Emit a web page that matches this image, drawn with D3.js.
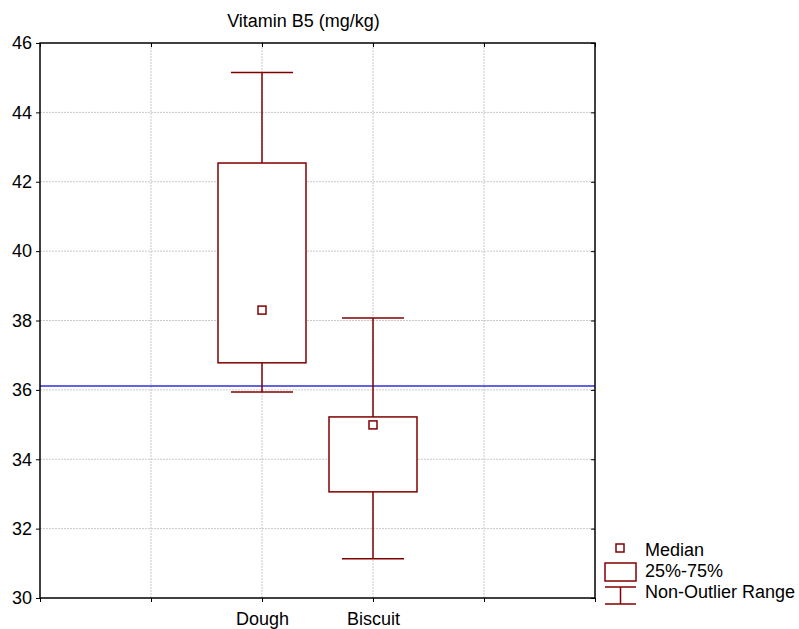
<!DOCTYPE html>
<html>
<head>
<meta charset="utf-8">
<script src="https://cdn.jsdelivr.net/npm/d3@7"></script>
<style>
  body { margin: 0; background: #fff; }
  text { font-family: "Liberation Sans", Arial, sans-serif; }
</style>
</head>
<body>
<div id="chart"></div>
<script>
// data
const categories = ['Dough', 'Biscuit'];
const whiskerLow = [35.94, 31.13];
const q1 = [36.78, 33.06];
const medians = [38.30, 34.99];
const q3 = [42.54, 35.22];
const whiskerHigh = [45.15, 38.07];
const refLine = 36.11;
const yTicks = [30, 32, 34, 36, 38, 40, 42, 44, 46];
const xSlots = [0, 1, 2, 3, 4, 5];   // categories sit on slots 2 and 3
const legendItems = ['Median', '25%-75%', 'Non-Outlier Range'];

const W = 799, H = 629;
const m = { left: 40, right: 204, top: 43, bottom: 31 };
const color = '#800000';
const fs = '18px';

const svg = d3.select('#chart').append('svg').attr('width', W).attr('height', H);

const x = d3.scaleLinear().domain([0, 5]).range([m.left, W - m.right]);
const y = d3.scaleLinear().domain([30, 46]).range([H - m.bottom, m.top]);
const catX = (i) => x(i + 2);

// grid
const grid = svg.append('g').attr('stroke', '#c8c8c8').attr('stroke-dasharray', '2,1').attr('stroke-width', 1);
yTicks.slice(1, -1).forEach((t) => {
  grid.append('line').attr('x1', x(0)).attr('x2', x(5)).attr('y1', y(t)).attr('y2', y(t));
});
xSlots.slice(1, -1).forEach((s) => {
  grid.append('line').attr('x1', x(s)).attr('x2', x(s)).attr('y1', y(30)).attr('y2', y(46));
});

// reference line
svg.append('line')
  .attr('x1', x(0)).attr('x2', x(5))
  .attr('y1', y(refLine)).attr('y2', y(refLine))
  .attr('stroke', '#2f2fe0').attr('stroke-width', 1.5);

// axes
const yAxis = svg.append('g').attr('transform', `translate(${x(0)},0)`)
  .call(d3.axisLeft(y).tickValues(yTicks).tickSize(4).tickPadding(4));
yAxis.selectAll('text').style('font-size', fs).attr('fill', '#000');
const yAxisR = svg.append('g').attr('transform', `translate(${x(5)},0)`)
  .call(d3.axisLeft(y).tickValues(yTicks).tickSize(4).tickFormat(''));
const xAxis = svg.append('g').attr('transform', `translate(0,${y(30)})`)
  .call(d3.axisBottom(x).tickValues(xSlots).tickSize(4)
    .tickFormat((d) => categories[d - 2] || '').tickPadding(10));
xAxis.selectAll('text').style('font-size', fs).attr('fill', '#000');
const xAxisT = svg.append('g').attr('transform', `translate(0,${y(46)})`)
  .call(d3.axisBottom(x).tickValues(xSlots).tickSize(4).tickFormat(''));
[yAxis, yAxisR, xAxis, xAxisT].forEach((a) => {
  a.select('.domain').remove();
  a.selectAll('line').attr('stroke', '#000');
});
svg.append('rect')
  .attr('x', x(0)).attr('y', y(46))
  .attr('width', x(5) - x(0)).attr('height', y(30) - y(46))
  .attr('fill', 'none').attr('stroke', '#000').attr('stroke-width', 1.5);

// boxes
const boxW = 88, capW = 62, medS = 8;
const boxes = svg.append('g').attr('stroke', color).attr('stroke-width', 1.5).attr('fill', 'none');
categories.forEach((c, i) => {
  const cx = catX(i);
  boxes.append('line').attr('x1', cx).attr('x2', cx).attr('y1', y(q3[i])).attr('y2', y(whiskerHigh[i]));
  boxes.append('line').attr('x1', cx).attr('x2', cx).attr('y1', y(q1[i])).attr('y2', y(whiskerLow[i]));
  boxes.append('line').attr('x1', cx - capW / 2).attr('x2', cx + capW / 2).attr('y1', y(whiskerHigh[i])).attr('y2', y(whiskerHigh[i]));
  boxes.append('line').attr('x1', cx - capW / 2).attr('x2', cx + capW / 2).attr('y1', y(whiskerLow[i])).attr('y2', y(whiskerLow[i]));
  boxes.append('rect').attr('x', cx - boxW / 2).attr('y', y(q3[i]))
    .attr('width', boxW).attr('height', y(q1[i]) - y(q3[i])).attr('fill', '#fff');
  boxes.append('rect').attr('x', cx - medS / 2).attr('y', y(medians[i]) - medS / 2)
    .attr('width', medS).attr('height', medS).attr('fill', '#fff');
});

// title
svg.append('text').attr('x', 303.5).attr('y', 27)
  .attr('text-anchor', 'middle').style('font-size', fs).text('Vitamin B5 (mg/kg)');

// legend
const lg = svg.append('g').attr('transform', 'translate(605,540)');
const ls = lg.append('g').attr('stroke', color).attr('stroke-width', 1.5).attr('fill', 'none');
ls.append('rect').attr('x', 11).attr('y', 4).attr('width', 8).attr('height', 8);
ls.append('rect').attr('x', 0).attr('y', 23).attr('width', 31).attr('height', 18);
ls.append('line').attr('x1', 0).attr('x2', 31).attr('y1', 47).attr('y2', 47);
ls.append('line').attr('x1', 0).attr('x2', 31).attr('y1', 64).attr('y2', 64);
ls.append('line').attr('x1', 15.5).attr('x2', 15.5).attr('y1', 47).attr('y2', 64);
legendItems.forEach((t, i) => {
  lg.append('text').attr('x', 40).attr('y', 16 + i * 21).style('font-size', fs).text(t);
});
</script>
</body>
</html>
